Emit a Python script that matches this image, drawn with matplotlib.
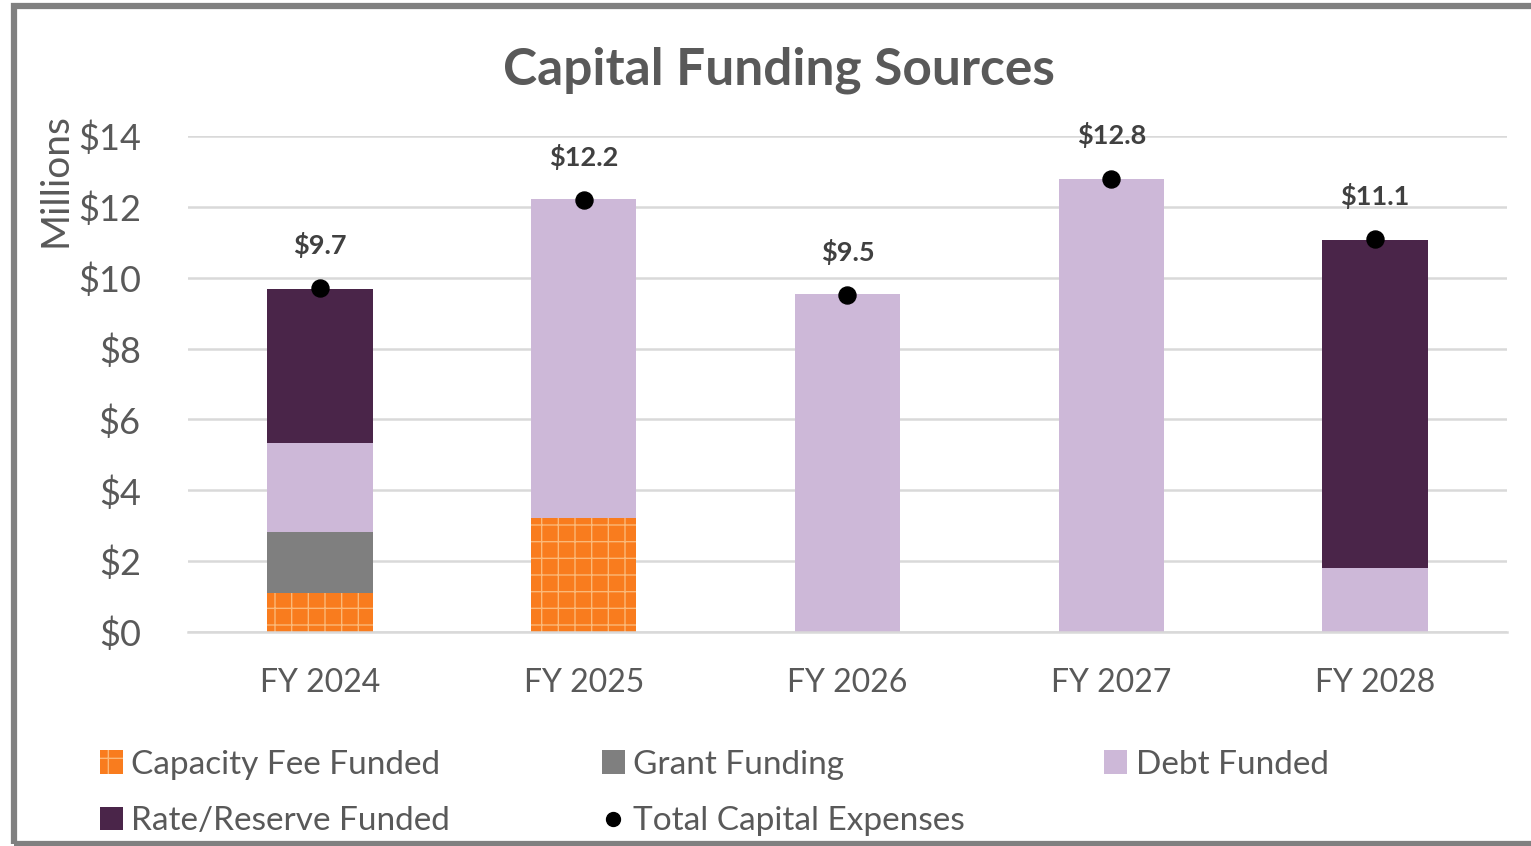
import matplotlib.pyplot as plt
from matplotlib.patches import Patch, Rectangle
from matplotlib.lines import Line2D
import numpy as np

plt.rcParams['font.family'] = ['Lato', 'DejaVu Sans']
plt.rcParams['hatch.linewidth'] = 1.0

# data (millions)
years = ['FY 2024', 'FY 2025', 'FY 2026', 'FY 2027', 'FY 2028']
capacity_fee = [1.1, 3.22, 0.0, 0.0, 0.0]
grant = [1.72, 0.0, 0.0, 0.0, 0.0]
debt = [2.51, 9.0, 9.53, 12.78, 1.81]
rate_reserve = [4.35, 0.0, 0.0, 0.0, 9.25]
totals = [9.7, 12.2, 9.5, 12.8, 11.1]

c_cap = '#F97C1E'
c_grant = '#7F7F7F'
c_debt = '#CDB8D8'
c_rate = '#4A2549'
txt = '#595959'

fig = plt.figure(figsize=(15.31, 8.46), dpi=100)
ax = fig.add_axes([0.1228, 0.2530, 0.8615, 0.5862])

x = np.arange(len(years))
w = 0.4
b = np.zeros(len(years))
ax.bar(x, capacity_fee, w, bottom=b, color=c_cap, edgecolor='#FBB877', linewidth=0, hatch='+', zorder=2)
b += capacity_fee
ax.bar(x, grant, w, bottom=b, color=c_grant, linewidth=0, zorder=2)
b += grant
ax.bar(x, debt, w, bottom=b, color=c_debt, linewidth=0, zorder=2)
b += debt
ax.bar(x, rate_reserve, w, bottom=b, color=c_rate, linewidth=0, zorder=2)

ax.scatter(x, totals, s=150, color='black', zorder=4, clip_on=False)
for xi, t in zip(x, totals):
    ax.annotate('$%.1f' % t, (xi, t), xytext=(0, 31), textcoords='offset points',
                ha='center', va='center', fontsize=19.5, fontweight='bold', color='#404040')

ax.set_xlim(-0.5, 4.5)
ax.set_ylim(0, 14)
ax.set_yticks(range(0, 15, 2))
ax.set_yticklabels(['$%d' % v for v in range(0, 15, 2)])
ax.set_xticks(x)
ax.set_xticklabels(years)
ax.tick_params(axis='y', length=0, pad=34, labelsize=26, labelcolor=txt)
ax.tick_params(axis='x', length=0, pad=26, labelsize=23, labelcolor=txt)
ax.grid(axis='y', color='#D9D9D9', linewidth=1.8, zorder=0)
for s in ['top', 'right', 'left']:
    ax.spines[s].set_visible(False)
ax.spines['bottom'].set_color('#D9D9D9')
ax.spines['bottom'].set_linewidth(1.8)
ax.set_axisbelow(True)

fig.text(0.5085, 0.917, 'Capital Funding Sources', ha='center', va='center',
         fontsize=37, fontweight='bold', color=txt)
fig.text(0.036, 0.787, 'Millions', rotation=90, ha='center', va='center',
         fontsize=28, color=txt)

# legend in three fixed columns
h_cap = Patch(facecolor=c_cap, edgecolor='#FBB877', linewidth=0, hatch='+')
h_rate = Patch(facecolor=c_rate, linewidth=0)
h_grant = Patch(facecolor=c_grant, linewidth=0)
h_tot = Line2D([], [], marker='o', color='black', linestyle='none', markersize=10)
h_debt = Patch(facecolor=c_debt, linewidth=0)
cols = [([h_cap, h_rate], ['Capacity Fee Funded', 'Rate/Reserve Funded'], 0.065),
        ([h_grant, h_tot], ['Grant Funding', 'Total Capital Expenses'], 0.393),
        ([h_debt], ['Debt Funded'], 0.721)]
for hs, ls, xl in cols:
    fig.legend(hs, ls, loc='upper left', bbox_to_anchor=(xl, 0.114),
               frameon=False, fontsize=24, labelcolor=txt, handlelength=0.7,
               handleheight=0.7, handletextpad=0.25, labelspacing=0.8,
               borderaxespad=0, borderpad=0)

fig.patches.append(Rectangle((0.0092, 0.002), 1.2, 0.9905, transform=fig.transFigure,
                             fill=False, edgecolor='#808080', linewidth=4.5, clip_on=False))

fig.savefig('out.png', dpi=100)
